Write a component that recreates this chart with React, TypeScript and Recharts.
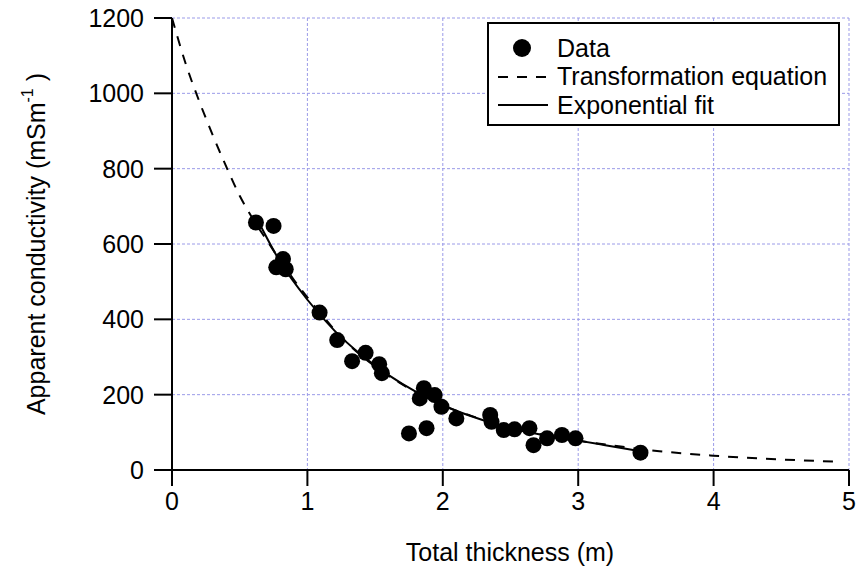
import { ComposedChart, Scatter, Line, XAxis, YAxis, CartesianGrid, Legend } from 'recharts';

// measured points
const dataX = [0.62, 0.75, 0.77, 0.82, 0.84, 1.09, 1.22, 1.33, 1.43, 1.53, 1.55, 1.75, 1.83, 1.86, 1.88, 1.94, 1.99, 2.1, 2.35, 2.36, 2.45, 2.53, 2.64, 2.67, 2.77, 2.88, 2.98, 3.46];
const dataY = [657, 648, 538, 560, 533, 418, 345, 289, 311, 281, 257, 97, 190, 217, 111, 199, 168, 137, 146, 128, 106, 108, 111, 66, 84, 93, 84, 46];

// transformation equation curve
const transX = [0, 0.1, 0.2, 0.3, 0.4, 0.5, 0.6, 0.7, 0.8, 0.9, 1.0, 1.1, 1.2, 1.3, 1.4, 1.5, 1.6, 1.8, 2.0, 2.2, 2.4, 2.6, 2.8, 3.0, 3.3, 3.6, 4.0, 4.5, 4.9];
const transY = [1200, 1080, 980, 890, 806, 728, 665, 610, 556, 505, 458, 415, 372, 335, 303, 275, 250, 207, 172, 145, 122, 104, 90, 78, 63, 50, 38, 28, 22];

// exponential fit curve
const fitX = [0.63, 0.8, 1.0, 1.2, 1.4, 1.6, 1.8, 2.0, 2.2, 2.4, 2.6, 2.8, 3.0, 3.2, 3.46];
const fitY = [665, 552, 452, 370, 305, 252, 208, 172, 144, 121, 103, 89, 78, 66, 50];

const xTicks = [0, 1, 2, 3, 4, 5];
const yTicks = [0, 200, 400, 600, 800, 1000, 1200];

const points = dataX.map((x, i) => ({ x, y: dataY[i] }));
const trans = transX.map((x, i) => ({ x, y: transY[i] }));
const fit = fitX.map((x, i) => ({ x, y: fitY[i] }));

const FONT = "'Liberation Sans', Arial, sans-serif";

const Dot = (p: any) => <circle cx={p.cx} cy={p.cy} r={8} fill="#000" />;

const YTitle = () => (
  <text
    x={36}
    y={244}
    dy="0.35em"
    transform="rotate(-90, 36, 244)"
    textAnchor="middle"
    fontSize={25}
    fontFamily={FONT}
    fill="#000"
  >
    Apparent conductivity (mSm
    <tspan dy={-12} fontSize={16}>-1</tspan>
    <tspan dy={12}> )</tspan>
  </text>
);

const XTitle = () => (
  <text x={510} y={552} dy="0.35em" textAnchor="middle" fontSize={25} fontFamily={FONT} fill="#000">
    Total thickness (m)
  </text>
);

const LegendBox = () => {
  const row = { display: 'flex', alignItems: 'center', height: 28.5 } as const;
  return (
    <div
      style={{
        border: '2px solid #000',
        background: '#fff',
        width: 349,
        height: 90,
        boxSizing: 'content-box',
        fontFamily: FONT,
        fontSize: 25,
        color: '#000',
        paddingTop: 10,
        lineHeight: 1,
      }}
    >
      {[0, 1, 2].map((k) => (
        <div key={k} style={row}>
          <svg width={68} height={28} style={{ flex: 'none' }}>
            {k === 0 && <circle cx={33} cy={14} r={9} fill="#000" />}
            {k === 1 && <line x1={9} y1={14} x2={58} y2={14} stroke="#000" strokeWidth={2} strokeDasharray="10 9" />}
            {k === 2 && <line x1={9} y1={14} x2={59} y2={14} stroke="#000" strokeWidth={2} />}
          </svg>
          <span>{['Data', 'Transformation equation', 'Exponential fit'][k]}</span>
        </div>
      ))}
    </div>
  );
};

export default function App() {
  return (
    <div style={{ position: 'absolute', left: 0, top: 0, width: 859, height: 582, background: '#fff' }}>
      <ComposedChart width={859} height={582} margin={{ top: 18, right: 10, bottom: 0, left: 0 }}>
        <CartesianGrid stroke="#9b9be8" strokeDasharray="3 2" strokeWidth={1} />
        <XAxis
          dataKey="x"
          type="number"
          domain={[0, 5]}
          ticks={xTicks}
          height={112}
          stroke="#000"
          strokeWidth={2}
          tickSize={16}
          tickMargin={6}
          tick={{ fill: '#000', fontSize: 25, fontFamily: FONT }}
          label={<XTitle />}
          allowDataOverflow
        />
        <YAxis
          type="number"
          domain={[0, 1200]}
          ticks={yTicks}
          width={172}
          stroke="#000"
          strokeWidth={2}
          tickSize={18}
          tickMargin={10}
          tick={{ fill: '#000', fontSize: 25, fontFamily: FONT }}
          label={<YTitle />}
          allowDataOverflow
        />
        <Legend
          layout="vertical"
          align="center"
          verticalAlign="middle"
          content={<LegendBox />}
          wrapperStyle={{ position: 'absolute', left: 487, top: 22, width: 'auto', height: 'auto' }}
        />
        <Line data={trans} dataKey="y" type="monotone" stroke="#000" strokeWidth={2} strokeDasharray="10 9" dot={false} isAnimationActive={false} />
        <Line data={fit} dataKey="y" type="monotone" stroke="#000" strokeWidth={2} dot={false} isAnimationActive={false} />
        <Scatter data={points} dataKey="y" shape={Dot} isAnimationActive={false} />
      </ComposedChart>
    </div>
  );
}
